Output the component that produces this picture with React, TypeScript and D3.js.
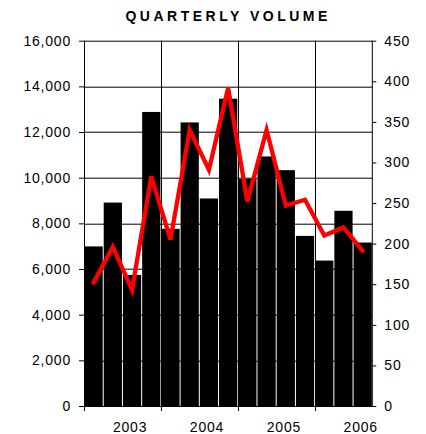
import React, { useEffect, useRef } from "react";
import * as d3 from "d3";

const quarters = [
  "2003 Q1", "2003 Q2", "2003 Q3", "2003 Q4",
  "2004 Q1", "2004 Q2", "2004 Q3", "2004 Q4",
  "2005 Q1", "2005 Q2", "2005 Q3", "2005 Q4",
  "2006 Q1", "2006 Q2", "2006 Q3",
];
const volume = [6990, 8910, 5740, 12880, 7760, 12420, 9090, 13460, 9950, 10930, 10330, 7450, 6370, 8550, 7160];
const lineValues = [152, 196, 143, 283, 205, 340, 291, 392, 252, 340, 247, 254, 210, 220, 191];
const years = ["2003", "2004", "2005", "2006"];
const leftTicks = [0, 2000, 4000, 6000, 8000, 10000, 12000, 14000, 16000];
const rightTicks = [0, 50, 100, 150, 200, 250, 300, 350, 400, 450];

const W = 426;
const H = 434;
const FONT = "'Liberation Sans', Arial, sans-serif";

export default function App() {
  const svgRef = useRef<SVGSVGElement>(null);

  useEffect(() => {
    const margin = { top: 40.7, right: 54, bottom: 28, left: 84 };
    const width = 372.3 - margin.left;
    const height = 406 - margin.top;

    const svgEl = d3.select(svgRef.current);
    svgEl.selectAll("*").remove();
    const svg = svgEl.append("g").attr("transform", `translate(${margin.left},${margin.top})`);

    const x = d3.scaleBand().domain(quarters).range([0, width]).padding(0);
    const yLeft = d3.scaleLinear().domain([0, 16000]).range([height, 0]);
    const yRight = d3.scaleLinear().domain([0, 450]).range([height, 0]);

    // horizontal grid lines (incl. top border)
    svg.selectAll(".hgrid")
      .data(leftTicks.filter((t) => t > 0))
      .enter().append("line")
      .attr("x1", 0).attr("x2", width)
      .attr("y1", (d) => Math.round(yLeft(d)) + 0.5)
      .attr("y2", (d) => Math.round(yLeft(d)) + 0.5)
      .attr("stroke", "#000").attr("stroke-width", 1);

    // year boundaries
    const yearStarts = years.map((_, i) => x(quarters[i * 4]) as number);
    svg.selectAll(".vgrid")
      .data(yearStarts.slice(1))
      .enter().append("line")
      .attr("x1", (d) => Math.round(d) + 0.5).attr("x2", (d) => Math.round(d) + 0.5)
      .attr("y1", 0).attr("y2", height)
      .attr("stroke", "#000").attr("stroke-width", 1);

    // bars
    svg.selectAll(".bar")
      .data(volume)
      .enter().append("rect")
      .attr("x", (d, i) => (x(quarters[i]) as number) + 0.5)
      .attr("width", x.bandwidth() - 1)
      .attr("y", (d) => yLeft(d))
      .attr("height", (d) => height - yLeft(d))
      .attr("fill", "#000");

    // left axis
    const leftAxis = d3.axisLeft(yLeft).tickValues(leftTicks).tickSize(5).tickPadding(8)
      .tickFormat((d) => d3.format(",")(d as number));
    const lg = svg.append("g").call(leftAxis);
    lg.select(".domain").attr("stroke", "#000").attr("d", `M0.5,0V${height}`);
    lg.selectAll("text").attr("font-family", FONT).attr("font-size", 14)
      .attr("letter-spacing", 0.8).attr("fill", "#000");

    // right axis
    const rightAxis = d3.axisRight(yRight).tickValues(rightTicks).tickSize(4).tickPadding(8);
    const rg = svg.append("g").attr("transform", `translate(${width},0)`).call(rightAxis);
    rg.select(".domain").attr("stroke", "#000").attr("d", `M0,0V${height}`);
    rg.selectAll("text").attr("font-family", FONT).attr("font-size", 14)
      .attr("letter-spacing", 0.8).attr("fill", "#000");

    // bottom axis
    const bg = svg.append("g").attr("transform", `translate(0,${height})`);
    bg.append("line").attr("x1", 0).attr("x2", width).attr("y1", 0.5).attr("y2", 0.5)
      .attr("stroke", "#000");
    bg.selectAll(".xtick")
      .data(yearStarts)
      .enter().append("line")
      .attr("x1", (d) => Math.round(d) + 0.5).attr("x2", (d) => Math.round(d) + 0.5)
      .attr("y1", 0).attr("y2", 5)
      .attr("stroke", "#000");
    bg.selectAll(".xlabel")
      .data(years)
      .enter().append("text")
      .attr("x", (d, i) => yearStarts[i] + x.bandwidth() * 2.4)
      .attr("y", 25.5)
      .attr("text-anchor", "middle")
      .attr("font-family", FONT).attr("font-size", 14).attr("letter-spacing", 0.8)
      .text((d) => d);

    // line
    const line = d3.line<number>()
      .x((d, i) => (x(quarters[i]) as number) + x.bandwidth() / 2)
      .y((d) => yRight(d));
    svg.append("path")
      .datum(lineValues)
      .attr("d", line)
      .attr("fill", "none")
      .attr("stroke", "#ff0000")
      .attr("stroke-width", 4.3)
      .attr("stroke-linejoin", "miter")
      .attr("stroke-linecap", "round");

    // title
    svgEl.append("text")
      .attr("x", margin.left + width / 2)
      .attr("y", 20.7)
      .attr("text-anchor", "middle")
      .attr("font-family", FONT).attr("font-size", 14).attr("font-weight", "bold")
      .attr("letter-spacing", 3.5)
      .text("QUARTERLY VOLUME");
  }, []);

  return (
    <svg
      ref={svgRef}
      width={W}
      height={H}
      style={{ position: "absolute", left: 0, top: 0, background: "#fff" }}
    />
  );
}
